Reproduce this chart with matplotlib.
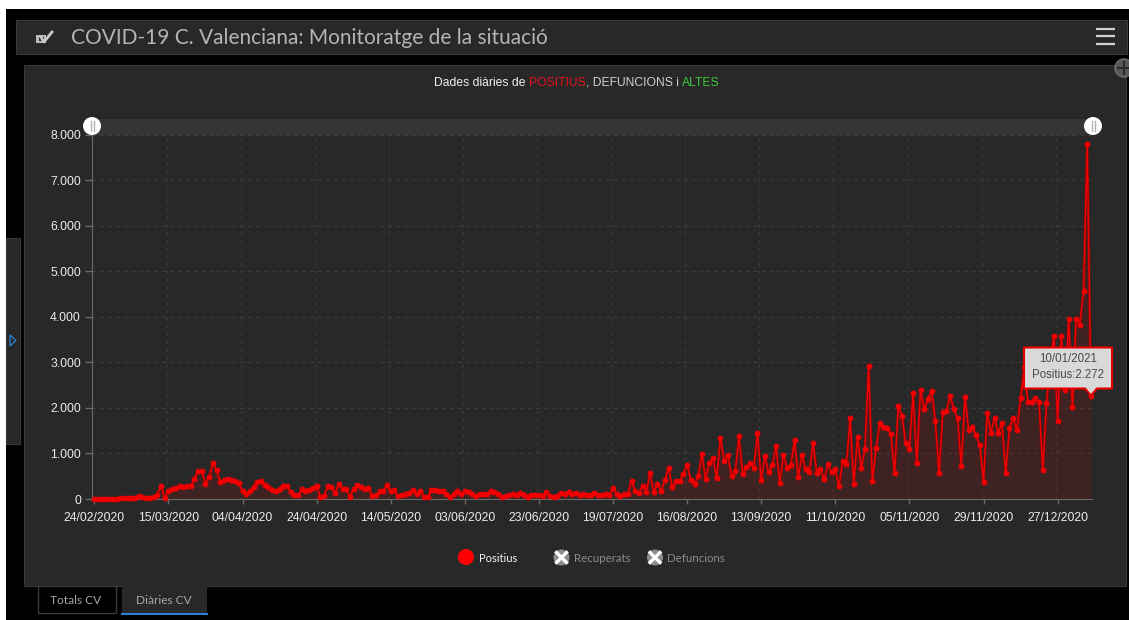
import numpy as np
import matplotlib
matplotlib.use("Agg")
import matplotlib.pyplot as plt
from matplotlib.patches import Rectangle, Circle, Polygon

# daily positives (one value per category on the x axis)
positius = [
    2, 2, 5, 8, 10, 8, 10, 15, 18, 20, 20, 25, 55, 50, 30, 25, 45, 90, 290, 20,
    180, 210, 240, 290, 260, 280, 290, 440, 620, 620, 340, 480, 790, 630, 380, 420, 430, 420, 390, 350,
    170, 120, 170, 270, 380, 390, 300, 270, 190, 170, 220, 290, 280, 150, 90, 80, 210, 180, 200, 250,
    290, 50, 60, 290, 270, 130, 330, 220, 210, 50, 230, 300, 260, 220, 240, 70, 80, 170, 170, 310,
    170, 190, 60, 90, 120, 140, 190, 110, 180, 40, 40, 200, 200, 180, 170, 110, 40, 100, 180, 110,
    180, 150, 110, 60, 120, 110, 120, 170, 150, 120, 40, 70, 90, 110, 90, 130, 90, 40, 80, 90,
    90, 70, 150, 70, 40, 60, 140, 120, 150, 110, 130, 90, 110, 80, 80, 130, 90, 80, 100, 90,
    240, 100, 60, 110, 120, 400, 170, 140, 285, 150, 580, 160, 330, 180, 420, 690, 260, 400, 400, 550,
    750, 420, 330, 510, 990, 440, 800, 890, 460, 1340, 840, 960, 500, 610, 1380, 550, 700, 780, 680, 1450,
    420, 935, 590, 740, 1160, 360, 960, 690, 740, 1300, 490, 960, 650, 590, 1230, 580, 660, 430, 760, 590,
    650, 285, 840, 760, 1770, 330, 1370, 670, 1100, 2920, 395, 1120, 1670, 1590, 1560, 1430, 560, 2050, 1830, 1230,
    1100, 2330, 790, 2400, 1980, 2200, 2370, 1710, 560, 1910, 1940, 2260, 1970, 1780, 720, 2250, 1510, 1580, 1400, 1190,
    380, 1890, 1460, 1780, 1460, 1670, 560, 1560, 1780, 1510, 2220, 2890, 2130, 2130, 2220, 2130, 630, 2100, 3000, 3570,
    1720, 3580, 2400, 3950, 2010, 3950, 3830, 4560, 7800, 2272,
]
data_ticks = ["24/02/2020", "15/03/2020", "04/04/2020", "24/04/2020", "14/05/2020", "03/06/2020", "23/06/2020",
              "19/07/2020", "16/08/2020", "13/09/2020", "11/10/2020", "05/11/2020", "29/11/2020", "27/12/2020"]
y_vals = [0, 1000, 2000, 3000, 4000, 5000, 6000, 7000, 8000]
y_labels = ["0", "1.000", "2.000", "3.000", "4.000", "5.000", "6.000", "7.000", "8.000"]

W, H = 1129, 620
PANEL = "#282828"
tick_font = "Liberation Sans"

fig = plt.figure(figsize=(W / 100, H / 100), dpi=100, facecolor="white")

# pixel-coordinate layers for the dashboard around the chart
bg = fig.add_axes([0, 0, 1, 1], zorder=0)
bg.set_xlim(0, W)
bg.set_ylim(H, 0)
bg.axis("off")
fg = fig.add_axes([0, 0, 1, 1], zorder=5)
fg.set_xlim(0, W)
fg.set_ylim(H, 0)
fg.axis("off")
fg.patch.set_alpha(0)

bg.add_patch(Rectangle((6, 9), W - 6, H - 9, fc="black", ec="none"))
bg.add_patch(Rectangle((15.5, 19.5), 1111, 34.5, fc=PANEL, ec="#383838", lw=0.8))
bg.add_patch(Rectangle((24, 65), 1102, 521, fc=PANEL, ec="#383838", lw=0.8))
bg.add_patch(Rectangle((6, 238), 14, 206, fc=PANEL, ec="#383838", lw=0.8))
bg.add_patch(Polygon([(10, 335), (16, 340.5), (10, 346)], closed=True, fc="none", ec="#2f7fc8", lw=1))

# header
bg.add_patch(Rectangle((36, 35), 10, 8, fc="#b8b8b8", ec="none"))
bg.add_patch(Rectangle((38.5, 37), 5, 4, fc="#303030", ec="none"))
bg.plot([41, 44, 52], [37, 42, 32], color="#c8c8c8", lw=2)
bg.text(71, 38, "COVID-19 C. Valenciana: Monitoratge de la situació", fontsize=15.05, family="Lato",
        color="#b4b4b4", va="center", ha="left")
for yy in [28.5, 36, 43.5]:
    bg.plot([1095.5, 1114.5], [yy, yy], color="#d0d0d0", lw=1.6, solid_capstyle="butt")

# tabs
bg.add_patch(Rectangle((37.5, 586), 78, 27, fc="black", ec="#3a3a3a", lw=1))
bg.add_patch(Rectangle((122, 586), 85, 27, fc=PANEL, ec="none"))
bg.plot([122, 207], [613.5, 613.5], color="#2a80d2", lw=1.5)
bg.text(76, 600, "Totals CV", fontsize=8.6, family="Lato", color="#a8a8a8", ha="center", va="center")
bg.text(164, 600, "Diàries CV", fontsize=8.6, family="Lato", color="#a8a8a8", ha="center", va="center")

# chart, axes box placed so that category 0 and the y scale land on the right pixels
left_px, right_px, top_px, bot_px = 92, 1092, 134.7, 499
step = 3.705
ax = fig.add_axes([left_px / W, 1 - bot_px / H, (right_px - left_px) / W, (bot_px - top_px) / H], zorder=2)
ax.patch.set_alpha(0)
ax.set_xlim(-(94.3 - left_px) / step, (right_px - 94.3) / step)
ax.set_ylim(0, 8000)

xs = np.arange(len(positius))
ax.fill_between(xs, positius, 0, color="#ff0000", alpha=0.11, lw=0)
# wide dark line under the bright one, the original looks soft around the stroke
ax.plot(xs, positius, color="#900000", lw=2.4, alpha=0.5, clip_on=False, zorder=3)
ax.plot(xs, positius, color="#f00000", lw=1.1, marker="o", ms=4.2, mec="#f00000", mfc="#f00000", mew=0,
        clip_on=False, zorder=4)

tick_pos = np.arange(len(data_ticks)) * 20
ax.set_xticks(tick_pos)
ax.set_xticklabels(data_ticks, fontsize=8.7, family=tick_font, color="#ececec")
ax.set_xticks(tick_pos[1:] - 0.5, minor=True)
ax.set_yticks(y_vals)
ax.set_yticklabels(y_labels, fontsize=8.7, family=tick_font, color="#ececec")
ax.tick_params(axis="x", which="major", length=3.6, width=1, color="#6a6a6a", pad=6)
ax.tick_params(axis="x", which="minor", length=0)
ax.tick_params(axis="y", length=5, width=1, color="#6a6a6a", pad=3)
ax.grid(False)
ax.grid(True, axis="y", which="major", color="#3e3e3e", lw=0.7, ls=(0, (4, 4)))
ax.grid(True, axis="x", which="minor", color="#3e3e3e", lw=0.7, ls=(0, (3, 5)))
ax.set_axisbelow(True)
for side in ["top", "right"]:
    ax.spines[side].set_visible(False)
ax.spines["left"].set_color("#6a6a6a")
ax.spines["bottom"].set_color("#6a6a6a")

# range slider on top of the plot
bg.add_patch(Rectangle((92, 119), 1001, 16, fc="#353535", ec="none"))
for cx in [92, 1093]:
    fg.add_patch(Circle((cx, 126), 9, fc="white", ec="none"))
    for dx in [-1.5, 1.5]:
        fg.plot([cx + dx, cx + dx], [121, 131], color="#b4b4b4", lw=1)

# title in three colours, placed piece by piece
fig.canvas.draw()
rend = fig.canvas.get_renderer()
pieces = [("Dades diàries de ", "#f0f0f0"), ("POSITIUS", "#e8101a"), (", DEFUNCIONS i ", "#cfcfcf"), ("ALTES", "#3cc83c")]
tx = 434
for txt, col in pieces:
    t = bg.text(tx, 82.5, txt.replace(" ", "\u00a0"), fontsize=8.77, family=tick_font, color=col, ha="left", va="center")
    tx = t.get_window_extent(rend).x1

# legend
bg.add_patch(Circle((466, 557), 8, fc="#ff0000", ec="none"))
bg.text(479, 558, "Positius", fontsize=8, family="Lato", color="#f4f4f4", ha="left", va="center")
for cx, name in [(561.5, "Recuperats"), (655, "Defuncions")]:
    bg.add_patch(Circle((cx, 557.5), 8, fc="#8c8c8c", ec="none"))
    bg.plot([cx - 5, cx + 5], [552.5, 562.5], color="white", lw=2.4)
    bg.plot([cx - 5, cx + 5], [562.5, 552.5], color="white", lw=2.4)
    bg.text(cx + 12.5, 558, name, fontsize=8.25, family="Lato", color="#8c8c8c", ha="left", va="center")

# tooltip, its tip sits on the last point
tip = ax.transData.transform((xs[-1], positius[-1]))
tip_x, tip_y = tip[0], H - tip[1]
fg.add_patch(Polygon([(1024, 347.5), (1112, 347.5), (1112, 388.5), (tip_x + 6, 388.5), (tip_x, tip_y),
                      (tip_x - 6, 388.5), (1024, 388.5)], closed=True, fc="#d9d9d9", ec="#e80000", lw=1.5))
fg.text(1068, 359, "10/01/2021", fontsize=8.3, family=tick_font, color="#4a4a4a", ha="center", va="center")
fg.text(1068, 375, "Positius:2.272", fontsize=8.3, family=tick_font, color="#4a4a4a", ha="center", va="center")

# expand button on panel corner
fg.add_patch(Circle((1124, 68), 9, fc="#585858", ec="#707070", lw=1))
fg.plot([1124, 1124], [62, 74], color="#2a2a2a", lw=1.5)
fg.plot([1118, 1130], [68, 68], color="#2a2a2a", lw=1.5)

fig.savefig("out.png", dpi=100, facecolor=fig.get_facecolor())
